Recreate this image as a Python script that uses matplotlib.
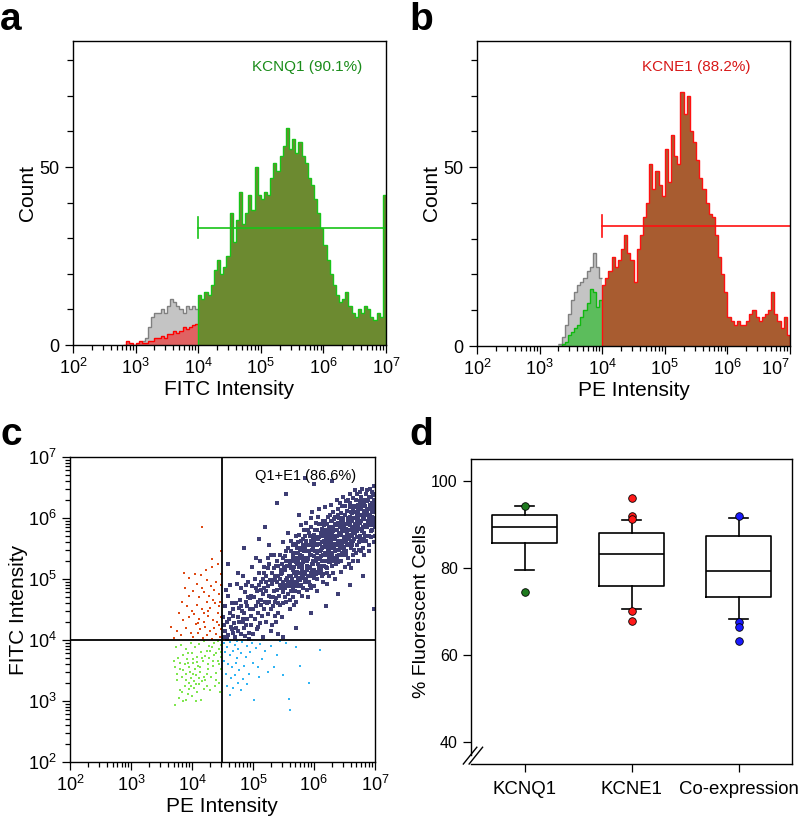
import numpy as np
import matplotlib
matplotlib.use("Agg")
import matplotlib.pyplot as plt
from matplotlib.ticker import MultipleLocator, LogLocator, NullFormatter, FixedLocator

plt.rcParams["font.family"] = ["Liberation Sans", "DejaVu Sans"]
plt.rcParams["mathtext.default"] = "regular"

# ---------------- data: histograms (counts per 0.05-decade bin) ----------------
A_GRAY_START = 3.00
a_gray = [0, 0.5, 1, 2, 5, 8, 9, 9, 10, 9, 11, 13, 12, 11, 10, 9, 11, 10, 11, 10]
A_RED_START = 2.80
a_red = [0, 1, 0.5, 0, 0.5, 1, 0.5, 0.5, 1, 1, 2, 2, 2.5, 2, 3, 3, 4, 3.5, 4, 5, 4.5, 5, 5.5, 6]
A_MAIN_START = 4.00
a_main = [14, 13, 15, 14, 17, 21, 24, 20, 22, 25, 37, 29, 35, 43, 34, 37, 42, 38, 50, 42,
          41, 43, 42, 47, 51, 49, 53, 56, 61, 55, 58, 54, 57, 53, 51, 47, 45, 41, 37, 33,
          28, 24, 20, 17, 14, 12, 13, 15, 11, 9, 8, 10, 9, 11, 10, 8, 7, 9, 8, 42]

B_GRAY_START = 3.30
b_gray = [0.5, 2.5, 6, 9, 13, 15, 17, 18, 19, 21, 22, 26, 22, 19]
B_GREEN_START = 3.30
b_green = [0, 0.5, 1, 3, 4, 5, 6, 8, 10, 12, 16, 15, 11, 13]
B_MAIN_START = 4.00
b_main = [17, 19, 21, 25, 22, 24, 27, 31, 26, 24, 18, 27, 31, 36, 40, 51, 44, 49, 45, 42,
          55, 46, 59, 53, 51, 71, 65, 70, 60, 57, 52, 47, 44, 40, 37, 36, 31, 25, 20, 15,
          8, 7, 6, 7, 6, 6, 7, 9, 10, 8, 7, 8, 9, 10, 15, 9, 7, 5, 8, 3]
BIN = 0.05

gate_a = (1e4, 33.0); gate_b = (1e4, 33.5)
label_a = "KCNQ1 (90.1%)"; label_b = "KCNE1 (88.2%)"

# ---------------- data: dot plot (log10 PE, log10 FITC) ----------------
pts_red = """4.02,4.05 4.10,4.12 4.18,4.03 4.25,4.08 4.33,4.02 4.40,4.10 4.46,4.05 4.48,4.18 4.44,4.25
4.37,4.20 4.30,4.15 4.22,4.22 4.14,4.18 4.06,4.26 3.98,4.12 3.90,4.20 3.82,4.08 3.75,4.15 3.70,4.03
3.66,4.22 3.86,4.32 3.95,4.38 4.04,4.42 4.12,4.35 4.20,4.30 4.27,4.40 4.35,4.33 4.42,4.45 4.47,4.38
4.45,4.55 4.38,4.60 4.30,4.52 4.24,4.62 4.16,4.50 4.08,4.58 4.00,4.48 3.92,4.55 3.84,4.62 3.78,4.45
4.12,4.70 4.20,4.78 4.28,4.72 4.36,4.82 4.44,4.75 4.48,4.90 4.40,4.95 4.32,4.88 4.25,4.98 4.17,4.85
4.09,4.92 4.02,4.80 3.95,4.72 3.88,4.85 3.96,5.02 4.05,5.08 4.15,5.06 4.23,5.15 4.33,5.20 4.43,5.25
4.47,5.08 3.87,5.10 4.33,5.33 4.48,5.45 4.17,5.85 4.26,4.48 4.34,4.65 4.41,4.30 4.19,4.44 4.10,4.28
4.46,4.62"""
pts_green = """3.72,2.93 3.78,3.05 3.85,3.00 3.93,3.12 4.00,3.08 4.08,3.15 4.15,3.02 4.20,3.20 3.80,3.18
3.88,3.25 3.96,3.30 4.04,3.22 4.12,3.28 4.22,3.35 4.30,3.18 4.38,3.25 4.45,3.30 3.75,3.35 3.83,3.40
3.91,3.45 3.99,3.38 4.06,3.42 4.14,3.48 4.24,3.44 4.32,3.40 4.40,3.46 4.47,3.52 3.72,3.55 3.80,3.52
3.88,3.60 3.95,3.55 4.02,3.62 4.10,3.58 4.18,3.65 4.26,3.60 4.34,3.58 4.42,3.65 4.48,3.72 3.77,3.70
3.85,3.75 3.92,3.68 4.00,3.78 4.08,3.72 4.15,3.80 4.22,3.74 4.30,3.82 4.37,3.76 4.45,3.85 3.74,3.88
3.82,3.92 3.90,3.85 3.98,3.95 4.05,3.88 4.12,3.93 4.20,3.98 4.28,3.90 4.36,3.95 4.43,3.98 4.48,3.92
3.95,3.20 4.03,3.33 4.11,3.38 3.97,3.47 4.05,3.52 4.13,3.56 3.94,3.62 4.01,3.68 4.09,3.64 4.17,3.70
3.90,3.35 3.86,3.50 4.26,3.52 4.19,3.40 4.28,3.70 4.35,3.66 4.40,3.78 3.80,3.62 3.98,3.25 4.07,3.28
4.16,3.32 4.02,3.45 4.24,3.82 3.93,3.78 4.33,3.88 4.45,3.60 4.40,3.35 4.25,3.25 3.84,3.14 3.76,3.45
3.70,3.65 4.48,3.80 4.46,3.15 4.06,3.00 3.90,3.02"""
pts_cyan = """4.52,3.95 4.58,3.88 4.63,3.97 4.70,3.92 4.76,3.85 4.82,3.96 4.90,3.90 4.55,3.80 4.62,3.75
4.68,3.82 4.74,3.70 4.80,3.78 4.88,3.72 4.95,3.80 5.05,3.86 5.12,3.93 5.20,3.82 5.30,3.90 5.40,3.75
5.55,3.95 4.53,3.65 4.60,3.60 4.66,3.55 4.72,3.62 4.78,3.50 4.86,3.58 4.93,3.45 5.00,3.62 5.08,3.55
5.15,3.68 4.56,3.45 4.64,3.38 4.70,3.42 4.76,3.30 4.84,3.36 4.91,3.28 5.10,3.40 5.25,3.48 5.35,3.55
5.50,3.42 4.58,3.25 4.68,3.22 4.80,3.18 5.02,3.01 5.59,3.04 5.61,2.86 5.77,3.58 5.92,3.29 6.10,3.83
5.70,3.88 4.50,3.85 4.98,3.95 4.74,3.98 5.45,3.98 4.62,3.10"""
pts_dark = """4.52,4.05 4.55,4.15 4.58,4.30 4.60,4.08 4.62,4.45 4.64,4.22 4.66,4.60 4.68,4.12 4.51,4.38
4.54,4.55 4.57,4.02 4.59,4.72 4.61,4.35 4.63,4.90 4.65,4.18 4.67,4.40 4.69,4.28 4.53,4.25 4.56,4.82
4.68,4.50 4.71,4.05 4.73,4.20 4.75,4.38 4.77,4.52 4.79,4.65 4.81,4.10 4.83,4.30 4.85,4.45 4.87,4.78
4.89,4.25 4.91,4.55 4.93,4.02 4.95,4.68 4.97,4.40 4.99,4.88 4.72,4.60 4.74,4.92 4.76,4.15 4.78,4.30
4.80,4.85 4.82,4.48 4.84,5.05 4.86,4.20 4.88,4.62 4.90,4.35 4.92,4.95 4.94,4.12 4.96,4.50 4.98,5.20
4.75,5.10 4.87,4.06 4.97,4.72 5.01,4.10 5.03,4.35 5.05,4.55 5.07,4.80 5.09,4.22 5.11,4.65 5.13,4.95
5.15,4.40 5.17,4.75 5.19,5.10 5.21,4.30 5.23,4.60 5.25,4.88 5.27,5.25 5.29,4.50 5.02,4.70 5.04,5.00
5.06,4.18 5.08,4.45 5.10,4.90 5.12,5.30 5.14,4.58 5.16,4.05 5.18,4.85 5.20,4.62 5.22,5.05 5.24,4.42
5.26,4.72 5.28,4.98 5.30,5.40 5.05,5.35 5.12,4.28 5.19,4.50 5.24,5.18 5.29,4.15 5.08,4.62 5.16,5.00
5.22,4.80 5.27,4.62 5.00,4.50 5.14,4.82 5.26,5.55 5.31,4.25 5.33,4.55 5.35,4.80 5.37,5.05 5.39,5.30
5.41,4.45 5.43,4.72 5.45,5.00 5.47,5.25 5.49,4.60 5.51,4.90 5.53,5.15 5.55,5.45 5.57,4.75 5.59,5.05
5.32,4.92 5.34,5.18 5.36,4.40 5.38,4.68 5.40,4.95 5.42,5.22 5.44,4.58 5.46,4.85 5.48,5.10 5.50,5.35
5.52,4.70 5.54,4.98 5.56,5.22 5.58,5.50 5.60,4.88 5.33,4.70 5.35,5.40 5.38,4.30 5.41,5.05 5.44,4.90
5.47,4.38 5.50,5.60 5.53,4.85 5.56,5.02 5.59,5.30 5.32,5.10 5.37,4.62 5.42,4.10 5.46,5.08 5.51,5.20
5.55,4.62 5.58,5.75 5.36,5.02 5.40,4.82 5.45,5.40 5.49,4.95 5.54,5.30 5.61,4.50 5.62,4.80 5.63,5.05
5.64,5.30 5.65,5.55 5.66,4.70 5.67,4.95 5.68,5.20 5.69,5.42 5.70,4.62 5.71,4.88 5.72,5.12 5.73,5.35
5.74,5.60 5.75,4.78 5.76,5.02 5.77,5.25 5.78,5.48 5.79,4.90 5.80,5.15 5.81,5.38 5.82,5.65 5.83,4.85
5.84,5.08 5.85,5.30 5.86,5.52 5.87,5.00 5.88,5.22 5.89,5.45 5.90,5.80 5.62,5.18 5.64,4.92 5.66,5.40
5.68,4.58 5.70,5.28 5.72,5.50 5.74,5.00 5.76,5.72 5.78,5.10 5.80,4.72 5.82,5.28 5.84,5.45 5.86,5.12
5.88,4.82 5.63,5.62 5.67,5.10 5.71,5.58 5.75,5.20 5.79,5.35 5.83,5.55 5.87,5.35 5.61,4.95 5.65,5.15
5.69,4.80 5.73,4.95 5.77,5.40 5.81,5.05 5.85,5.70 5.89,5.15 5.76,6.05 5.91,4.70 5.92,4.95 5.93,5.20
5.94,5.40 5.95,5.62 5.96,5.85 5.97,5.05 5.98,5.30 5.99,5.50 6.00,5.72 6.01,4.88 6.02,5.12 6.03,5.35
6.04,5.58 6.05,5.80 6.06,5.00 6.07,5.25 6.08,5.45 6.09,5.68 6.10,5.90 6.11,5.15 6.12,5.38 6.13,5.60
6.14,5.82 6.15,5.08 6.16,5.30 6.17,5.52 6.18,5.75 6.19,5.95 6.20,5.42 5.91,5.32 5.93,5.55 5.95,5.10
5.97,5.48 5.99,5.25 6.01,5.62 6.03,5.08 6.05,5.42 6.07,5.65 6.09,5.22 6.11,5.48 6.13,5.30 6.15,5.70
6.17,5.22 6.19,5.55 5.92,5.75 5.94,5.18 5.96,5.40 5.98,5.65 6.00,5.38 6.02,5.80 6.04,5.30 6.06,5.55
6.08,5.18 6.10,5.45 6.12,5.70 6.14,5.50 6.16,5.88 6.18,5.40 6.20,5.65 5.95,4.85 6.00,5.02 6.05,4.80
6.10,5.10 6.15,4.95 6.20,5.20 5.97,6.10 6.08,6.15 6.18,6.18 6.02,5.55 6.21,4.92 6.22,5.18 6.23,5.40
6.24,5.62 6.25,5.85 6.26,6.05 6.27,5.28 6.28,5.50 6.29,5.72 6.30,5.95 6.31,5.10 6.32,5.35 6.33,5.58
6.34,5.80 6.35,6.02 6.36,5.25 6.37,5.48 6.38,5.70 6.39,5.92 6.40,6.15 6.41,5.40 6.42,5.62 6.43,5.85
6.44,6.08 6.45,5.30 6.46,5.55 6.47,5.78 6.48,6.00 6.49,5.45 6.50,5.68 6.21,5.52 6.23,5.75 6.25,5.35
6.27,5.60 6.29,5.42 6.31,5.78 6.33,5.30 6.35,5.65 6.37,5.88 6.39,5.55 6.41,5.75 6.43,5.50 6.45,5.95
6.47,5.40 6.49,5.85 6.22,5.90 6.24,5.45 6.26,5.68 6.28,5.95 6.30,5.55 6.32,5.85 6.34,5.45 6.36,5.70
6.38,5.38 6.40,5.62 6.42,6.00 6.44,5.72 6.46,6.20 6.48,5.60 6.50,5.90 6.25,5.05 6.30,5.22 6.35,5.00
6.40,5.28 6.45,5.12 6.50,5.40 6.28,6.22 6.38,6.30 6.48,6.35 6.33,5.68 6.51,5.20 6.52,5.45 6.53,5.68
6.54,5.90 6.55,6.12 6.56,5.35 6.57,5.58 6.58,5.80 6.59,6.02 6.60,6.25 6.61,5.50 6.62,5.72 6.63,5.95
6.64,6.15 6.65,5.40 6.66,5.65 6.67,5.88 6.68,6.10 6.69,6.30 6.70,5.55 6.71,5.78 6.72,6.00 6.73,6.22
6.74,5.48 6.75,5.70 6.76,5.92 6.77,6.15 6.78,6.35 6.79,5.62 6.80,5.85 6.52,5.82 6.54,5.55 6.56,6.00
6.58,5.65 6.60,5.88 6.62,6.08 6.64,5.78 6.66,6.00 6.68,5.75 6.70,6.18 6.72,5.85 6.74,6.05 6.76,5.65
6.78,5.95 6.80,6.20 6.53,6.28 6.57,5.25 6.61,5.18 6.65,5.30 6.69,5.42 6.73,5.30 6.77,5.45 6.55,5.75
6.63,5.55 6.71,5.95 6.79,6.05 6.59,6.40 6.67,6.45 6.75,6.42 6.66,5.82 6.81,5.50 6.82,5.75 6.83,5.98
6.84,6.20 6.85,6.40 6.86,5.62 6.87,5.85 6.88,6.08 6.89,6.30 6.90,5.45 6.91,5.70 6.92,5.92 6.93,6.15
6.94,6.35 6.95,5.80 6.96,6.02 6.97,6.25 6.98,5.60 6.99,5.88 6.82,6.10 6.84,5.88 6.86,6.30 6.88,5.70
6.90,6.02 6.92,6.22 6.94,5.95 6.96,6.42 6.98,6.12 6.83,5.40 6.87,6.45 6.91,5.55 6.95,6.10 6.99,6.30
6.85,6.05 6.89,5.95 6.93,5.78 6.97,5.95 6.81,6.30 7.00,5.70 7.00,5.95 7.00,6.10 7.00,6.25 7.00,6.40
7.00,6.00 7.00,5.85 4.85,5.50 5.10,5.65 5.40,6.25 5.55,6.40 5.85,6.65 6.00,6.55 6.30,6.60 6.70,6.05
6.80,5.05 6.60,4.90 6.40,4.75 6.20,4.55 5.95,4.45 5.70,4.20 5.50,4.05 5.20,5.85 4.60,5.25 6.98,4.50
5.605,5.25 5.625,5.45 5.645,5.00 5.665,5.32 5.685,5.58 5.705,5.05 5.725,5.25 5.745,5.42 5.765,4.88
5.785,5.62 5.805,5.22 5.825,5.02 5.845,5.35 5.865,5.62 5.885,5.30 5.905,5.05 5.925,5.45 5.945,5.70
5.965,5.25 5.985,5.58 6.005,5.15 6.025,5.45 6.045,5.68 6.065,5.35 6.085,5.90 6.105,5.58 6.125,5.22
6.145,5.40 6.165,5.62 6.185,5.30 6.205,5.80 6.225,5.55 6.245,5.28 6.265,5.78 6.285,5.62 6.305,5.38
6.325,5.98 6.345,5.70 6.365,5.55 6.385,5.80 6.405,5.48 6.425,5.72 6.445,5.88 6.465,5.62 6.485,5.78
6.505,6.05 6.525,5.62 6.545,5.80 6.565,5.95 6.585,5.70 6.605,6.10 6.625,5.85 6.645,5.62 6.665,6.20
6.685,5.90 6.705,5.68 6.725,6.12 6.745,5.82 6.765,6.28 6.785,5.78 6.805,6.00 6.825,6.25 6.845,5.70
6.865,6.15 6.885,5.90 6.905,6.35 6.925,6.05 6.945,5.68 6.965,6.18 6.985,5.98 5.615,4.65 5.655,4.85
5.695,5.12 5.735,5.30 5.775,4.98 5.815,5.50 5.855,4.95 5.895,5.55 5.935,4.90 5.975,5.15 6.015,5.30
6.055,5.12 6.095,5.32 6.135,5.05 6.175,5.42 6.215,5.10 6.255,5.45 6.295,5.22 6.335,5.52 6.375,5.32
6.415,5.55 6.455,5.42 6.495,5.52 6.535,5.40 6.575,5.72 6.615,5.60 6.655,5.48 6.695,5.85 6.735,5.60
6.775,5.82 6.815,5.65 6.855,5.85 6.895,6.15 6.935,5.88 6.975,6.38 6.515,6.20 6.555,6.30 6.595,6.18
6.635,6.32 6.675,6.00 6.715,6.40 6.755,6.22 6.795,6.48 6.835,6.12 6.875,6.28 6.915,6.48 6.955,6.25
6.995,6.52 6.115,5.75 6.155,5.95 6.195,5.70 6.235,6.02 6.275,5.85 6.315,6.10 6.355,5.90 6.395,6.05
6.435,6.25 6.475,5.95 5.835,5.80 5.875,5.92 5.955,6.00 6.035,5.92 6.075,6.02 5.715,5.70 5.755,5.50
5.795,5.88 5.335,4.98 5.375,5.22 5.415,4.60 5.455,5.15 5.495,4.78 5.535,5.38 5.575,4.92 5.055,4.85
5.095,5.10 5.135,4.65 5.175,5.20 5.215,4.95 5.255,5.35 5.295,4.70 4.805,4.55 4.845,4.35 4.885,4.90
4.925,4.70 4.965,4.25"""
quad_x = 10**4.5; quad_y = 1e4
label_c = "Q1+E1 (86.6%)"

# ---------------- data: box plot ----------------
groups = ["KCNQ1", "KCNE1", "Co-expression"]
q1 = [85.7, 75.9, 73.3]
med = [89.5, 83.3, 79.4]
q3 = [92.2, 88.1, 87.4]
whislo = [79.5, 70.5, 68.3]
whishi = [94.1, 91.0, 91.5]
outliers = [[94.3, 74.5], [96.0, 92.0, 91.3, 70.0, 67.9], [92.0, 67.7, 66.4, 63.2]]
out_colors = ["#1e7a1e", "#ff1a1a", "#1a1aff"]
decades = [1e2, 1e3, 1e4, 1e5, 1e6, 1e7]


def pts(s):
    a = np.array([[float(v) for v in p.split(",")] for p in s.split()])
    return 10**a[:, 0], 10**a[:, 1]


def edges(start, vals):
    return 10**(start + BIN*np.arange(len(vals)+1))


def log_axis(axis):
    axis.set_major_locator(FixedLocator(decades))
    axis.set_minor_locator(LogLocator(base=10, subs=np.arange(2, 10), numticks=20))
    axis.set_minor_formatter(NullFormatter())


def style(ax):
    ax.tick_params(which="both", direction="out", labelsize=13, width=0.9)
    ax.tick_params(which="major", length=6)
    ax.tick_params(which="minor", length=3.5)
    for sp in ax.spines.values():
        sp.set_linewidth(1.0)


fig = plt.figure(figsize=(8, 8.18), dpi=100)

# ============ a ============
ax = fig.add_axes([0.0913, 0.5782, 0.3912, 0.3717])
ax.set_xscale("log")
ax.stairs(a_gray, edges(A_GRAY_START, a_gray), fill=True, color="#c4c4c4")
ax.stairs(a_gray, edges(A_GRAY_START, a_gray), baseline=None, color="#808080", lw=1)
ax.stairs(a_red, edges(A_RED_START, a_red), fill=True, color="#e06262")
ax.stairs(a_red, edges(A_RED_START, a_red), baseline=None, color="#ff0000", lw=1)
ax.stairs(a_main, edges(A_MAIN_START, a_main), fill=True, color="#6c8a30")
ax.stairs(a_main, edges(A_MAIN_START, a_main), baseline=0, color="#18c418", lw=1)
ax.plot([gate_a[0], 1e7], [gate_a[1]]*2, color="#18c418", lw=1.2, clip_on=False)
ax.plot([gate_a[0]]*2, [gate_a[1]-3, gate_a[1]+3], color="#18c418", lw=1.2)
ax.text(10**4.86, 78, label_a, color="#1a8c1a", fontsize=11, va="center")
ax.set_xlim(1e2, 1e7); ax.set_ylim(0, 85.4)
log_axis(ax.xaxis)
ax.set_yticks([0, 50]); ax.yaxis.set_minor_locator(MultipleLocator(10))
style(ax); ax.tick_params(axis="y", which="minor", length=4)
ax.set_xlabel("FITC Intensity", fontsize=15, labelpad=1)
ax.set_ylabel("Count", fontsize=15, labelpad=2)

# ============ b ============
ax = fig.add_axes([0.5963, 0.577, 0.3912, 0.3729])
ax.set_xscale("log")
ax.stairs(b_gray, edges(B_GRAY_START, b_gray), fill=True, color="#c4c4c4")
ax.stairs(b_gray, edges(B_GRAY_START, b_gray), baseline=None, color="#808080", lw=1)
ax.stairs(b_green, edges(B_GREEN_START, b_green), fill=True, color="#5cbd5c")
ax.stairs(b_green, edges(B_GREEN_START, b_green), baseline=None, color="#10b810", lw=1)
ax.stairs(b_main, edges(B_MAIN_START, b_main), fill=True, color="#a85c30")
ax.stairs(b_main, edges(B_MAIN_START, b_main), baseline=0, color="#ff1010", lw=1)
ax.plot([gate_b[0], 1e7], [gate_b[1]]*2, color="#ff1010", lw=1.2, clip_on=False)
ax.plot([gate_b[0]]*2, [gate_b[1]-3, gate_b[1]+3], color="#ff1010", lw=1.2)
ax.text(10**4.64, 78, label_b, color="#d81818", fontsize=11, va="center")
ax.set_xlim(1e2, 1e7); ax.set_ylim(0, 85.3)
log_axis(ax.xaxis)
ax.set_yticks([0, 50]); ax.yaxis.set_minor_locator(MultipleLocator(10))
style(ax); ax.tick_params(axis="y", which="minor", length=4)
ax.set_xlabel("PE Intensity", fontsize=15, labelpad=1)
ax.set_ylabel("Count", fontsize=15, labelpad=2)
ax.xaxis.get_major_ticks()[-1].label1.set_horizontalalignment("right")

# ============ c ============
ax = fig.add_axes([0.0875, 0.0685, 0.381, 0.3729])
ax.set_xscale("log"); ax.set_yscale("log")
for s, c, sz in [(pts_green, "#80e650", 4.5), (pts_red, "#de4a14", 4.5),
                 (pts_cyan, "#30b4f4", 4.5), (pts_dark, "#3e3e74", 5.5)]:
    x, y = pts(s)
    ax.scatter(x, y, s=sz, marker="s", color=c, linewidths=0, zorder=2)
ax.axvline(quad_x, color="black", lw=1.3, zorder=3)
ax.axhline(quad_y, color="black", lw=1.3, zorder=3)
ax.text(10**5.03, 10**6.69, label_c, fontsize=10.5, va="center")
ax.set_xlim(1e2, 1e7); ax.set_ylim(1e2, 1e7)
log_axis(ax.xaxis); log_axis(ax.yaxis)
style(ax)
ax.set_xlabel("PE Intensity", fontsize=15, labelpad=1)
ax.set_ylabel("FITC Intensity", fontsize=15, labelpad=0)

# ============ d ============
ax = fig.add_axes([0.5888, 0.066, 0.4012, 0.3729])
stats = [dict(med=m, q1=a, q3=b, whislo=lo, whishi=hi, fliers=[], label=g)
         for g, m, a, b, lo, hi in zip(groups, med, q1, q3, whislo, whishi)]
ax.bxp(stats, positions=[1, 2, 3], widths=0.6, showfliers=False,
       boxprops=dict(color="black", lw=1.2), medianprops=dict(color="black", lw=1.2),
       whiskerprops=dict(color="black", lw=1.2), capprops=dict(color="black", lw=1.2),
       capwidths=0.17)
for i, (ov, c) in enumerate(zip(outliers, out_colors)):
    ax.scatter([i+1]*len(ov), ov, s=30, color=c, edgecolors="black", linewidths=0.6, zorder=4)
ax.set_xlim(0.5, 3.5); ax.set_ylim(35, 105)
ax.set_yticks([40, 60, 80, 100])
style(ax); ax.tick_params(axis="y", labelsize=11.5); ax.tick_params(axis="x", labelsize=13.4, pad=6)
ax.spines["left"].set_bounds(37, 105)
for x0, x1 in [(-0.024, 0.018), (-0.006, 0.036)]:
    ax.plot([x0, x1], [0.0, 0.055], transform=ax.transAxes, color="black", lw=1, clip_on=False)
ax.set_ylabel("% Fluorescent Cells", fontsize=14, labelpad=1)

# panel letters
for t, x, y in [("a", 0.0, 0.997), ("b", 0.512, 0.997), ("c", 0.0, 0.49), ("d", 0.512, 0.49)]:
    fig.text(x, y, t, fontsize=28, fontweight="bold", va="top", ha="left")

fig.savefig("out.png", dpi=100)
